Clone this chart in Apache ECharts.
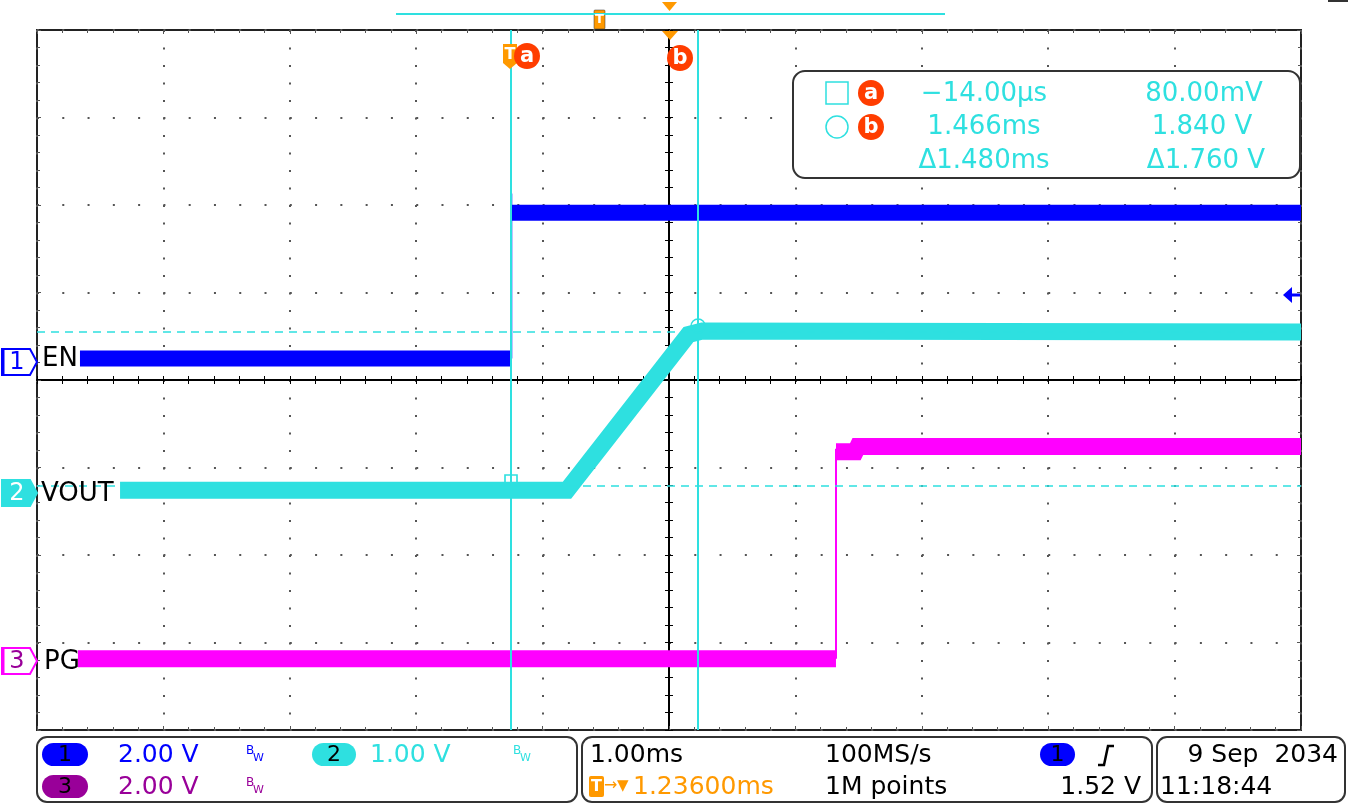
<!DOCTYPE html>
<html>
<head>
<meta charset="utf-8">
<title>EN / VOUT / PG start-up</title>
<script src="https://cdn.jsdelivr.net/npm/echarts@6/dist/echarts.min.js"></script>
<style>
  html, body { margin: 0; padding: 0; background: #fff; }
  #chart { width: 1350px; height: 808px; }
</style>
</head>
<body>
<div id="chart"></div>
<script>
// times are ms from the trigger (EN rising edge), values are volts
const TRIG_DELAY = 1.236; // trigger -> screen centre
const CURSOR_T = [-0.014, 1.466];
const CURSOR_V = [0.08, 1.84];

const EN_LOW = [[-3.424, 0.08], [-0.012, 0.08]];
const EN_EDGE = [[-0.012, 0.08], [-0.012, 3.85]];
const EN_HIGH = [[-0.012, 3.41], [6.236, 3.41]];

const VOUT = [[-3.107, 0.03], [0.429, 0.03], [1.39, 1.81], [1.50, 1.85], [6.236, 1.84]];

const PG_LOW = [[-3.44, 0.05], [2.557, 0.05]];
const PG_EDGE = [[2.557, 0.05], [2.557, 4.85]];
const PG_HIGH = [[2.557, 4.78], [2.71, 4.78], [2.73, 4.90], [6.236, 4.90]];

// volts/div and ground position (divisions above centre)
const CH1 = { scale: 2, pos: 0.206 };
const CH2 = { scale: 1, pos: -1.291 };
const CH3 = { scale: 2, pos: -3.211 };

const BLUE = '#0000FF';
const CYAN = '#2EE0E0';
const MAGENTA = '#FF00FF';
const PURPLE = '#990099';
const ORANGE = '#FF9900';
const RED = '#FF3D00';
const DOT = '#555';
const FONT = '"DejaVu Sans", sans-serif';

const toScreen = arr => arr.map(p => [p[0] - TRIG_DELAY, p[1]]);

function chAxis(ch) {
  return {
    type: 'value', show: false,
    min: (-4 - ch.pos) * ch.scale,
    max: (4 - ch.pos) * ch.scale,
    axisLine: { onZero: false },
    splitLine: { show: false }
  };
}

// centre cross-hair axes (ticks on both sides) and border ticks
function centreX(position) {
  return {
    type: 'value', min: -5, max: 5, interval: 1, position,
    axisLine: { onZero: true, onZeroAxisIndex: 0, lineStyle: { color: '#000', width: 2 } },
    axisTick: { show: true, length: 4, lineStyle: { color: '#000' } },
    minorTick: { show: true, splitNumber: 5, length: 4, lineStyle: { color: '#000' } },
    axisLabel: { show: false },
    splitLine: { show: false }
  };
}
function centreY(position) {
  return {
    type: 'value', min: -4, max: 4, interval: 1, position,
    axisLine: { onZero: true, onZeroAxisIndex: 0, lineStyle: { color: '#000', width: 2 } },
    axisTick: { show: true, length: 4, lineStyle: { color: '#000' } },
    minorTick: { show: true, splitNumber: 5, length: 4, lineStyle: { color: '#000' } },
    axisLabel: { show: false },
    splitLine: { show: false }
  };
}
function borderAxis(position, isX) {
  return {
    type: 'value', min: isX ? -5 : -4, max: isX ? 5 : 4, interval: 1, position,
    axisLine: { show: false, onZero: false },
    axisTick: { show: true, inside: true, length: 4, lineStyle: { color: DOT } },
    minorTick: { show: true, splitNumber: 5, length: 3, lineStyle: { color: DOT } },
    axisLabel: { show: false },
    splitLine: { show: false }
  };
}

const xAxes = [centreX('bottom'), centreX('top'), borderAxis('bottom', true), borderAxis('top', true)];
xAxes[0].splitLine = { show: true, lineStyle: { color: DOT, width: 2, type: [2, 15.5] } };

const yAxes = [centreY('left'), centreY('right'), borderAxis('left', false), borderAxis('right', false),
  chAxis(CH1), chAxis(CH2), chAxis(CH3)];
yAxes[0].splitLine = { show: true, lineStyle: { color: DOT, width: 2, type: [2, 23.28] } };

function trace(data, yIdx, color, width) {
  return {
    type: 'line', xAxisIndex: 0, yAxisIndex: yIdx, data: toScreen(data),
    symbol: 'none', silent: true, animation: false, z: 3,
    lineStyle: { color, width, cap: 'butt', join: 'miter' }
  };
}

// ---- overlay helpers
function txt(x, y, text, color, size, align, weight) {
  return {
    type: 'text', x, y, z: 100,
    style: { text, fill: color, font: (weight || 'normal') + ' ' + size + 'px ' + FONT,
      align: align || 'left', verticalAlign: 'middle' }
  };
}
function rect(x, y, w, h, r, fill, stroke, lw) {
  return { type: 'rect', z: 99, shape: { x, y, width: w, height: h, r },
    style: { fill, stroke: stroke || null, lineWidth: lw || 0 } };
}
function circle(cx, cy, r, fill, stroke) {
  return { type: 'circle', z: 100, shape: { cx, cy, r },
    style: { fill, stroke: stroke || null, lineWidth: stroke ? 1.5 : 0 } };
}
function poly(points, fill, stroke, lw) {
  return { type: 'polygon', z: 100, shape: { points },
    style: { fill, stroke: stroke || null, lineWidth: lw || 0 } };
}
function seg(x1, y1, x2, y2, color, lw) {
  return { type: 'line', z: 100, shape: { x1, y1, x2, y2 }, style: { stroke: color, lineWidth: lw } };
}
function letterBadge(cx, cy, letter) {
  return [circle(cx, cy, 13, RED), txt(cx, cy + 1, letter, '#fff', 21, 'center', 'bold')];
}
function chMarker(y, num, stroke, fill, textColor) {
  return [
    poly([[2, y - 13], [30, y - 13], [37, y], [30, y + 13], [2, y + 13]], fill, stroke, 2),
    seg(3, y - 13, 3, y + 13, stroke, 3),
    txt(17, y + 1, num, textColor, 24, 'center')
  ];
}
function pill(x, y, w, fill, label) {
  return [rect(x, y, w, 23, 11.5, fill), txt(x + w / 2, y + 12, label, '#000', 22, 'center')];
}
function bw(x, y, color) {
  return [txt(x, y - 4, 'B', color, 12), txt(x + 7, y + 3, 'W', color, 11)];
}

const overlay = [].concat(
  // record bar at the very top
  seg(396, 14, 945, 14, CYAN, 2),
  rect(594, 10, 11, 19, 1, ORANGE, '#333', 0.5),
  txt(599.5, 19.5, 'T', '#fff', 13, 'center', 'bold'),
  poly([[662, 2], [677, 2], [669.5, 11]], ORANGE),
  seg(1328, 1, 1348, 1, '#333', 2),

  // cursor flags inside the graticule
  poly([[503, 44], [517, 44], [517, 63], [510, 69], [503, 63]], ORANGE),
  txt(510, 55, 'T', '#fff', 16, 'center', 'bold'),
  letterBadge(527, 56, 'a'),
  poly([[662, 31], [678, 31], [670, 40]], ORANGE),
  letterBadge(680, 58, 'b'),

  // cursor readout
  rect(793, 71, 507, 107, 12, '#fff', '#333', 2),
  { type: 'rect', z: 100, shape: { x: 826, y: 82, width: 22, height: 22 }, style: { fill: null, stroke: CYAN, lineWidth: 1.5 } },
  letterBadge(871, 93, 'a'),
  circle(837, 127, 11, null, CYAN),
  letterBadge(871, 127, 'b'),
  txt(984, 94, '\u221214.00\u00b5s', CYAN, 26, 'center'),
  txt(1204, 94, '80.00mV', CYAN, 26, 'center'),
  txt(984, 127, '1.466ms', CYAN, 26, 'center'),
  txt(1202, 127, '1.840 V', CYAN, 26, 'center'),
  txt(984, 161, '\u03941.480ms', CYAN, 26, 'center'),
  txt(1206, 161, '\u03941.760 V', CYAN, 26, 'center'),

  // channel ground markers and labels
  chMarker(362, '1', BLUE, '#fff', BLUE),
  chMarker(493, '2', CYAN, CYAN, '#fff'),
  chMarker(661, '3', MAGENTA, '#fff', PURPLE),
  txt(42, 359, 'EN', '#000', 26),
  txt(41, 494, 'VOUT', '#000', 26),
  txt(44, 662, 'PG', '#000', 26),

  // trigger level arrow
  poly([[1283, 295], [1292, 287], [1292, 303]], BLUE),
  seg(1290, 295, 1300, 295, BLUE, 3),

  // status bar
  rect(37, 737, 540, 65, 10, '#fff', '#333', 2),
  rect(582, 737, 570, 65, 10, '#fff', '#333', 2),
  rect(1157, 737, 188, 65, 10, '#fff', '#333', 2),
  pill(42, 743, 46, BLUE, '1'),
  txt(118, 755, '2.00 V', BLUE, 25),
  bw(246, 755, BLUE),
  pill(312, 743, 44, CYAN, '2'),
  txt(370, 755, '1.00 V', CYAN, 25),
  bw(513, 755, CYAN),
  pill(42, 775, 46, PURPLE, '3'),
  txt(118, 787, '2.00 V', PURPLE, 25),
  bw(246, 787, PURPLE),

  txt(590, 755, '1.00ms', '#000', 25),
  txt(825, 755, '100MS/s', '#000', 25),
  pill(1040, 743, 35, BLUE, '1'),
  { type: 'polyline', z: 100, shape: { points: [[1098, 765], [1104, 765], [1108, 746], [1114, 746]] },
    style: { stroke: '#000', lineWidth: 2.5, fill: null } },
  rect(589, 776, 15, 21, 2, ORANGE),
  txt(596.5, 787, 'T', '#fff', 16, 'center', 'bold'),
  txt(604, 786, '\u2192', ORANGE, 16),
  txt(617, 786, '\u25bc', ORANGE, 15),
  txt(633, 787, '1.23600ms', ORANGE, 25),
  txt(825, 787, '1M points', '#000', 25),
  txt(1141, 787, '1.52 V', '#000', 25, 'right'),

  txt(1338, 755, '9 Sep  2034', '#000', 25, 'right'),
  txt(1160, 787, '11:18:44', '#000', 25)
);

const chart = echarts.init(document.getElementById('chart'), null, { renderer: 'canvas' });
chart.setOption({
  animation: false,
  backgroundColor: '#fff',
  grid: { left: 37, right: 49, top: 30, bottom: 78, show: true, borderColor: '#222', borderWidth: 2, backgroundColor: '#fff' },
  xAxis: xAxes,
  yAxis: yAxes,
  series: [
    trace(EN_LOW, 4, BLUE, 16),
    trace(EN_EDGE, 4, BLUE, 2),
    trace(EN_HIGH, 4, BLUE, 16),
    trace(VOUT, 5, CYAN, 17),
    trace(PG_LOW, 6, MAGENTA, 17),
    trace(PG_EDGE, 6, MAGENTA, 2),
    trace(PG_HIGH, 6, MAGENTA, 17),
    {
      // cursors, on top of the traces
      type: 'line', xAxisIndex: 0, yAxisIndex: 5, data: [], z: 5, silent: true,
      markLine: {
        symbol: 'none', silent: true, animation: false,
        label: { show: false },
        lineStyle: { color: CYAN, width: 2, type: 'solid' },
        data: [
          { xAxis: CURSOR_T[0] - TRIG_DELAY },
          { xAxis: CURSOR_T[1] - TRIG_DELAY },
          { yAxis: CURSOR_V[0], lineStyle: { type: [8, 6], width: 1.5 } },
          { yAxis: CURSOR_V[1], lineStyle: { type: [8, 6], width: 1.5 } }
        ]
      },
      markPoint: {
        silent: true, animation: false,
        label: { show: false },
        itemStyle: { color: 'rgba(0,0,0,0)', borderColor: CYAN, borderWidth: 1.5 },
        data: [
          { coord: [CURSOR_T[0] - TRIG_DELAY, CURSOR_V[0]], symbol: 'rect', symbolSize: [12, 10], symbolOffset: [0, -6] },
          { coord: [CURSOR_T[1] - TRIG_DELAY, CURSOR_V[1]], symbol: 'circle', symbolSize: 14, symbolOffset: [0, -6] }
        ]
      }
    }
  ],
  graphic: { elements: overlay }
});
</script>
</body>
</html>
